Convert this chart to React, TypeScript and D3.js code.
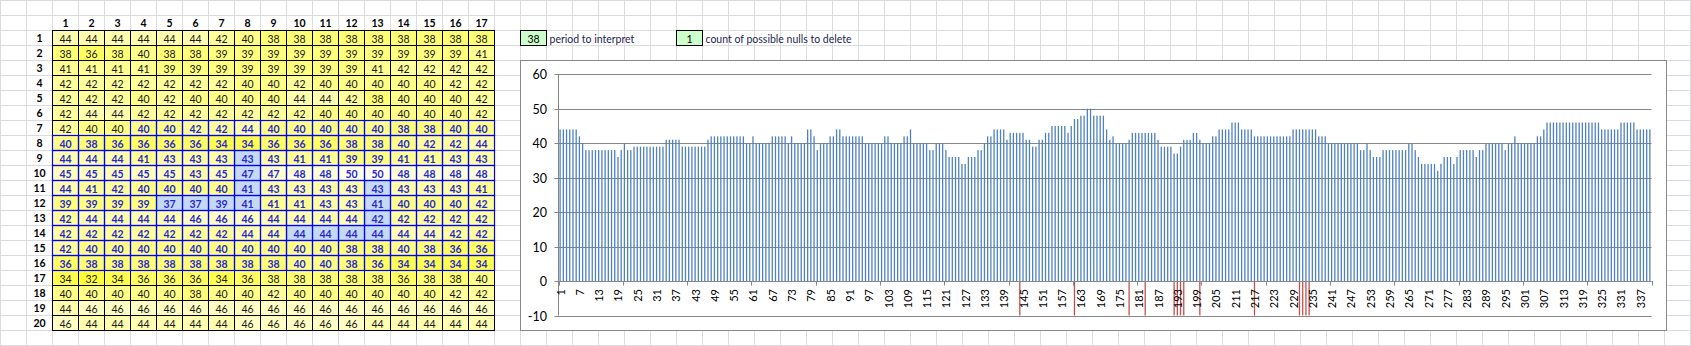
import React from 'react';
import * as d3 from 'd3';

const columnLabels = ['1','2','3','4','5','6','7','8','9','10','11','12','13','14','15','16','17'];
const rowLabels = ['1','2','3','4','5','6','7','8','9','10','11','12','13','14','15','16','17','18','19','20'];

const gridRows: number[][] = [
  [44,44,44,44,44,44,42,40,38,38,38,38,38,38,38,38,38],
  [38,36,38,40,38,38,39,39,39,39,39,39,39,39,39,39,41],
  [41,41,41,41,39,39,39,39,39,39,39,39,41,42,42,42,42],
  [42,42,42,42,42,42,42,40,40,42,40,40,40,40,40,42,42],
  [42,42,42,40,42,40,40,40,40,44,44,42,38,40,40,40,42],
  [42,44,44,42,42,42,42,42,42,42,40,40,40,40,40,40,42],
  [42,40,40,40,40,42,42,44,40,40,40,40,40,38,38,40,40],
  [40,38,36,36,36,36,34,34,36,36,36,38,38,40,42,42,44],
  [44,44,44,41,43,43,43,43,43,41,41,39,39,41,41,43,43],
  [45,45,45,45,45,43,45,47,47,48,48,50,50,48,48,48,48],
  [44,41,42,40,40,40,40,41,43,43,43,43,43,43,43,43,41],
  [39,39,39,39,37,37,39,41,41,41,43,43,41,40,40,40,42],
  [42,44,44,44,44,46,46,46,44,44,44,44,42,42,42,42,42],
  [42,42,42,42,42,42,42,44,44,44,44,44,44,44,44,42,42],
  [42,40,40,40,40,40,40,40,40,40,40,38,38,40,38,36,36],
  [36,38,38,38,38,38,38,38,38,40,40,38,36,34,34,34,34],
  [34,32,34,36,36,36,34,36,38,38,38,38,38,36,38,38,40],
  [40,40,40,40,40,38,40,40,42,40,40,40,40,40,40,42,42],
  [44,46,46,46,46,46,46,46,46,46,46,46,46,46,46,46,46],
  [46,44,44,44,44,44,44,46,46,46,46,46,44,44,44,44,44],
];

// [row, col] (1-based) of highlighted (possible null) cells
const highlightedCells: [number, number][] = [
  [9,8],[10,8],[11,8],[11,13],[12,5],[12,6],[12,7],[12,8],[12,13],[13,13],[14,10],[14,11],[14,12],[14,13],
];

const periodValue = '38';
const periodLabel = 'period to interpret';
const nullsValue = '1';
const nullsLabel = 'count of possible nulls to delete';
const yTickValues = [-10,0,10,20,30,40,50,60];
const nullMarkerValue = -10;

const W = 1691, H = 346;
const FONT = 'Lato, "Open Sans", sans-serif';

export default function App() {
  const nCols = columnLabels.length;
  const series = gridRows.flat();
  const categories = series.map((_, i) => String(i + 1));
  const markerSet = new Set(highlightedCells.map(([r, c]) => (r - 1) * nCols + c));
  const markers = categories.filter((c) => markerSet.has(+c));

  // sheet grid
  const cw = 26, ch = 15;
  const vLines = d3.range(0, Math.ceil(W / cw) + 1).map((k) => k * cw + 0.5);
  const hLines = d3.range(0, Math.ceil(H / ch) + 1).map((k) => k * ch + 0.5);

  // table
  const tx = 52.5, ty = 30.5;
  const colorScale = d3.scaleLinear<string>().domain([32, 50]).range(['#ffff3a', '#ffffea']).interpolate(d3.interpolateRgb);
  const isHi = (r: number, c: number) => highlightedCells.some(([a, b]) => a === r && b === c);
  const inBlue = (r: number, c: number) => (r === 7 && c >= 4) || (r >= 8 && r <= 16);

  const cells: any[] = [];
  gridRows.forEach((row, ri) => row.forEach((v, ci) => {
    cells.push({ r: ri + 1, c: ci + 1, v, x: tx + ci * cw, y: ty + ri * ch });
  }));

  // chart
  const px0 = 558.5, px1 = 1651.5;
  const x = d3.scaleBand<string>().domain(categories).range([px0, px1]).paddingInner(0.6).paddingOuter(0.3);
  const y = d3.scaleLinear().domain([-10, 60]).range([315.5, 74.3]);
  const step = x.step();
  const tickBoundaries = d3.range(0, series.length + 1, 20).map((k) => px0 + k * step);
  const labelCats = categories.filter((_, i) => i % 6 === 0);

  return (
    <svg width={W} height={H} style={{ position: 'absolute', left: 0, top: 0, background: '#fff' }}>
      <rect x={0} y={0} width={W} height={H} fill="#fff" />
      {vLines.map((vx, i) => <line key={'v' + i} x1={vx} x2={vx} y1={0} y2={H} stroke="#dadcdd" strokeWidth={1} />)}
      {hLines.map((hy, i) => <line key={'h' + i} x1={0} x2={W} y1={hy} y2={hy} stroke="#dadcdd" strokeWidth={1} />)}

      {/* headers */}
      {columnLabels.map((l, i) => (
        <text key={'cl' + i} x={tx + i * cw + cw / 2} y={ty - ch / 2} textAnchor="middle" dominantBaseline="central"
          fontFamily={FONT} fontSize={10.5} fontWeight={700} fill="#000">{l}</text>
      ))}
      {rowLabels.map((l, i) => (
        <text key={'rl' + i} x={tx - cw / 2} y={ty + i * ch + ch / 2} textAnchor="middle" dominantBaseline="central"
          fontFamily={FONT} fontSize={10.5} fontWeight={700} fill="#000">{l}</text>
      ))}

      {/* cell fills and black borders */}
      {cells.map((d) => (
        <rect key={'cf' + d.r + '-' + d.c} x={d.x} y={d.y} width={cw} height={ch}
          fill={isHi(d.r, d.c) ? '#c5d9f1' : colorScale(d.v)}
          stroke={inBlue(d.r, d.c) ? 'none' : '#000'} strokeWidth={1} />
      ))}
      {cells.filter((d) => inBlue(d.r, d.c)).map((d) => (
        <rect key={'cb' + d.r + '-' + d.c} x={d.x} y={d.y} width={cw} height={ch} fill="none" stroke="#0000ff" strokeWidth={1.2} />
      ))}
      {cells.map((d) => (
        <text key={'ct' + d.r + '-' + d.c} x={d.x + cw / 2} y={d.y + ch / 2 + 0.5} textAnchor="middle" dominantBaseline="central"
          fontFamily={FONT} fontSize={10.5} fontWeight={inBlue(d.r, d.c) ? 700 : 400}
          fill={inBlue(d.r, d.c) ? '#2828d2' : '#1a1a1a'}>{d.v}</text>
      ))}

      {/* inputs */}
      <rect x={520.5} y={30.5} width={26} height={15} fill="#ccffcc" stroke="#000" />
      <text x={533.5} y={38.5} textAnchor="middle" dominantBaseline="central" fontFamily={FONT} fontSize={10.5} fill="#000">{periodValue}</text>
      <text x={549.5} y={38.5} dominantBaseline="central" fontFamily={FONT} fontSize={10.5} fill="#1f1f4f">{periodLabel}</text>
      <rect x={676.5} y={30.5} width={26} height={15} fill="#ccffcc" stroke="#000" />
      <text x={689.5} y={38.5} textAnchor="middle" dominantBaseline="central" fontFamily={FONT} fontSize={10.5} fill="#000">{nullsValue}</text>
      <text x={705.5} y={38.5} dominantBaseline="central" fontFamily={FONT} fontSize={10.5} fill="#1f1f4f">{nullsLabel}</text>

      {/* chart box */}
      <rect x={520.5} y={60.5} width={1146} height={270} fill="#fff" stroke="#898989" strokeWidth={1} />

      {/* gridlines */}
      {yTickValues.map((t) => {
        const yy = Math.round(y(t)) + 0.5;
        return (
          <g key={'g' + t}>
            <line x1={px0 - 4} x2={px1} y1={yy} y2={yy} stroke="#878787" strokeWidth={1} />
            <text x={547} y={yy} textAnchor="end" dominantBaseline="central" fontFamily={FONT} fontSize={12.5} fill="#000">{t}</text>
          </g>
        );
      })}

      {/* bars */}
      {series.map((v, i) => (
        <rect key={'b' + i} x={x(categories[i])} width={x.bandwidth()} y={y(Math.max(v, 0))} height={Math.abs(y(v) - y(0))} fill="#4f81bd" />
      ))}
      {markers.map((c) => (
        <rect key={'m' + c} x={x(c)} width={x.bandwidth()} y={y(0)} height={y(nullMarkerValue) - y(0)} fill="#c0504d" />
      ))}

      {/* axes */}
      <line x1={px0} x2={px0} y1={y(60)} y2={y(-10)} stroke="#878787" strokeWidth={1} />
      <line x1={px0} x2={px1} y1={Math.round(y(0)) + 0.5} y2={Math.round(y(0)) + 0.5} stroke="#878787" strokeWidth={1} />
      {tickBoundaries.map((bx, i) => (
        <line key={'t' + i} x1={Math.round(bx) + 0.5} x2={Math.round(bx) + 0.5} y1={y(0)} y2={y(0) + 4.5} stroke="#878787" strokeWidth={1} />
      ))}
      {labelCats.map((c) => {
        const cx = (x(c) as number) + x.bandwidth() / 2;
        return (
          <text key={'xl' + c} transform={`translate(${cx},289) rotate(-90)`} textAnchor="end" dominantBaseline="central"
            fontFamily={FONT} fontSize={11} fill="#000">{c}</text>
        );
      })}
    </svg>
  );
}
